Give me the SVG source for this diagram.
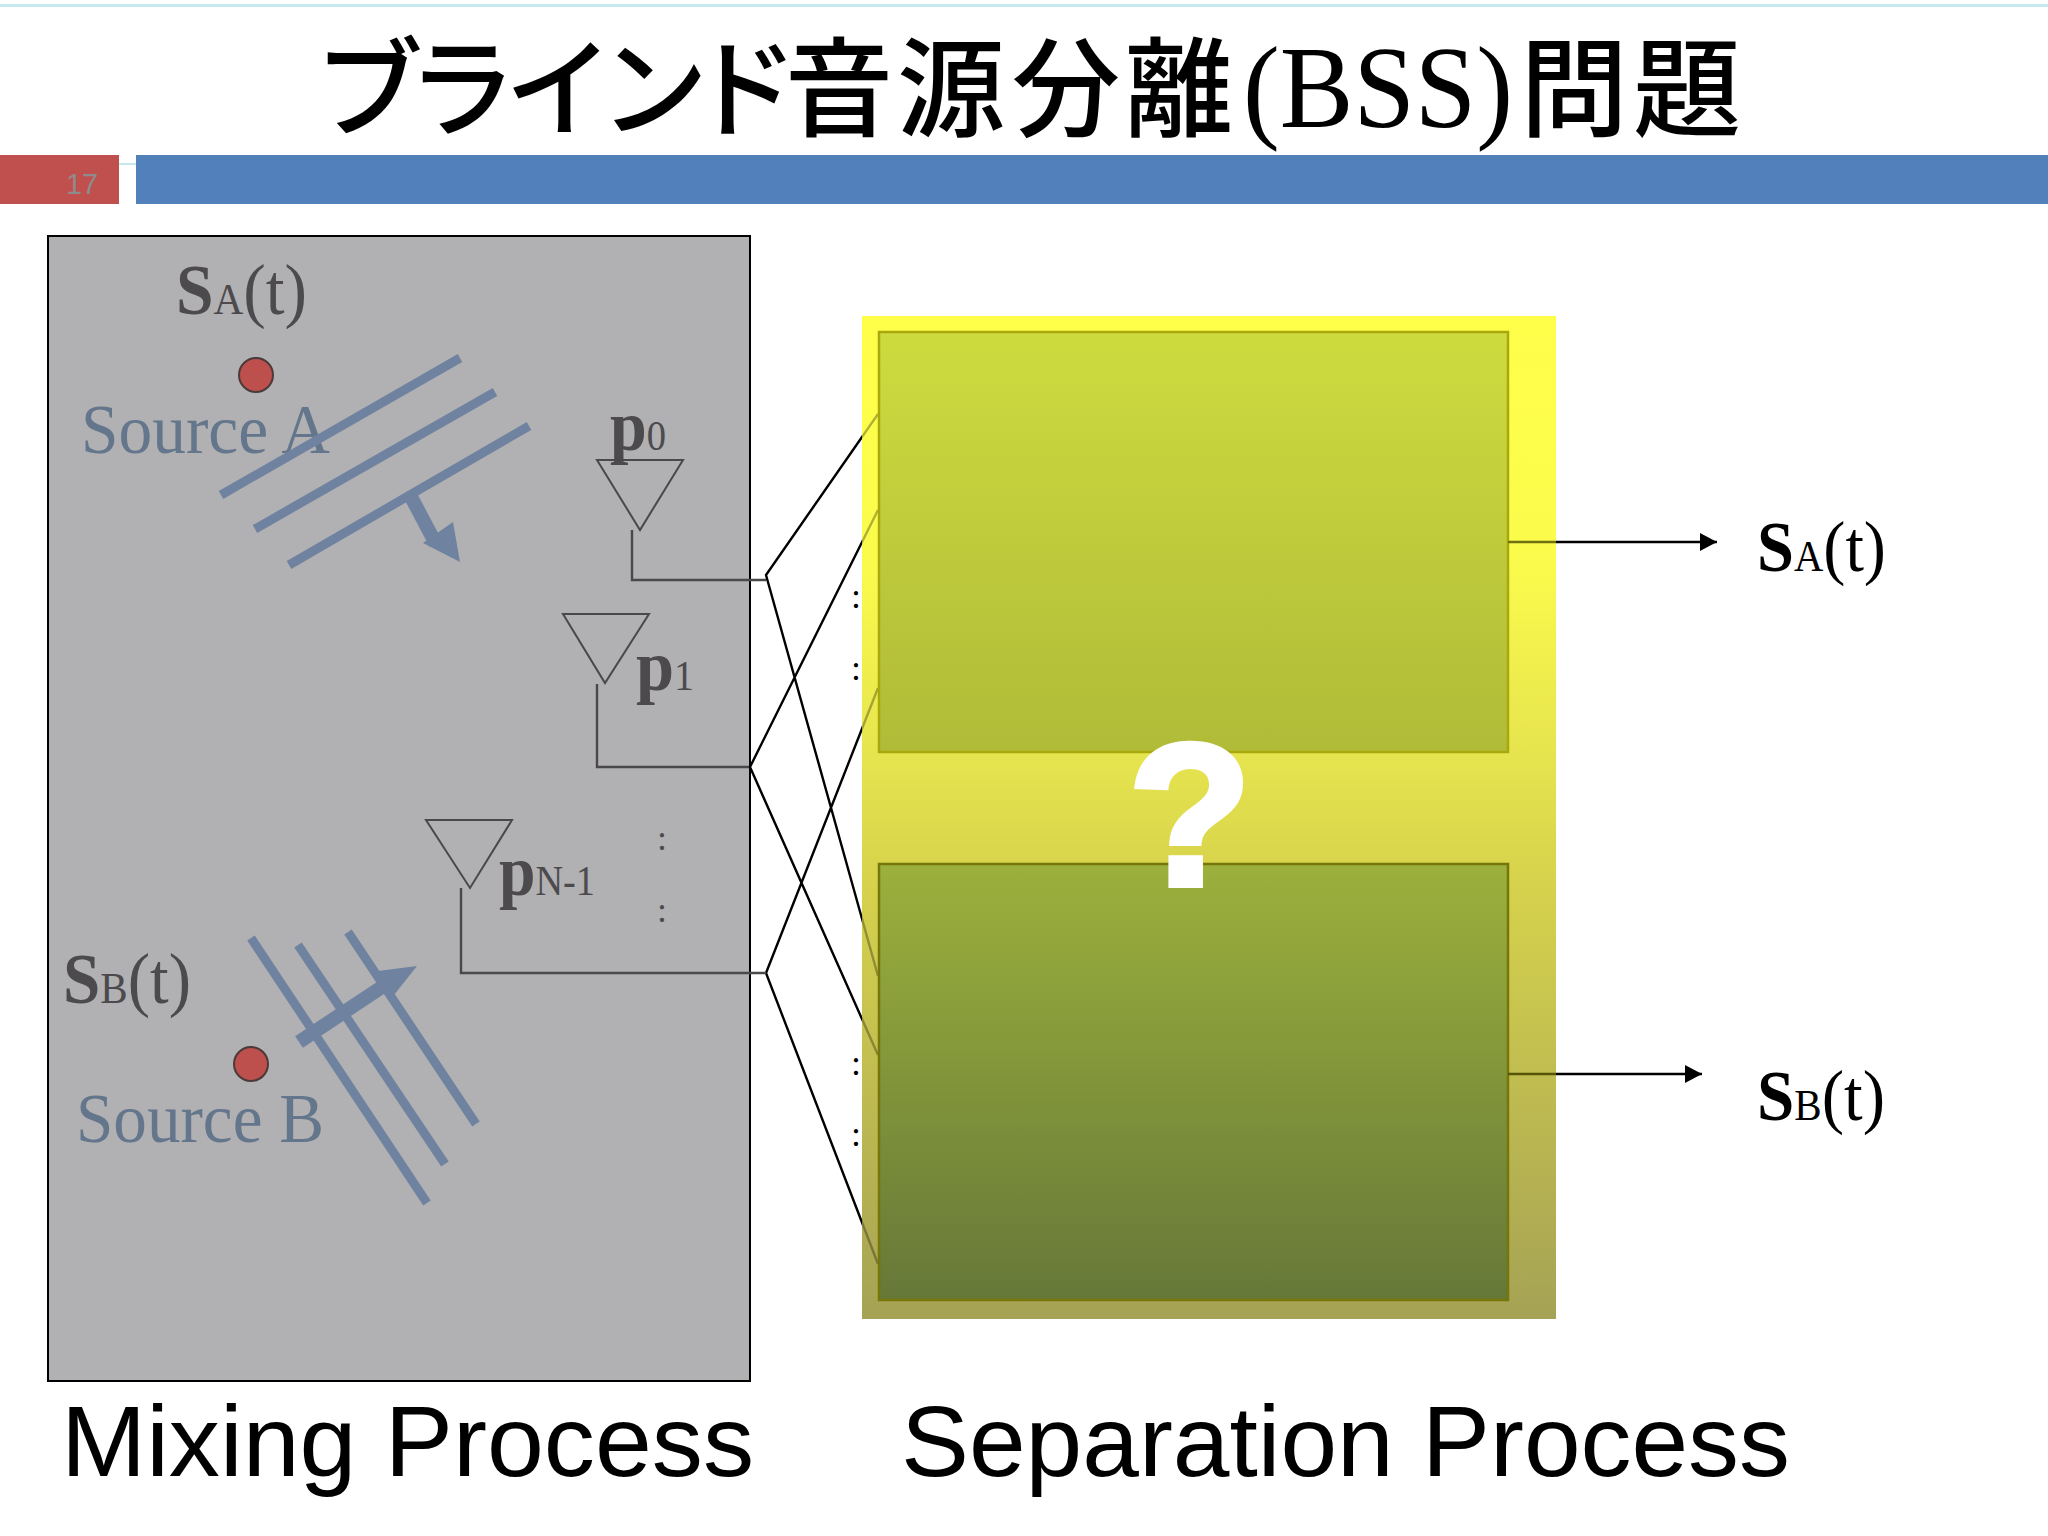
<svg xmlns="http://www.w3.org/2000/svg" width="2048" height="1536" viewBox="0 0 2048 1536">
<style>
.t{font-family:"Liberation Serif","Noto Sans CJK JP",serif}
.s{font-family:"Liberation Sans",sans-serif}
.dk{fill:#4c4a4d}
.b{font-weight:bold}
.wv{stroke:#6f83a0;stroke-width:9;fill:none}
.src{fill:#64768c;font-size:70px}
.mic{fill:none;stroke:#4a484b;stroke-width:2}
.wire{fill:none;stroke:#4a484b;stroke-width:2.4}
.x{fill:none;stroke:#000;stroke-width:2.4}
.cap{font-size:100px;fill:#000}
.dot{fill:#bd4f4c;stroke:#4a3a3a;stroke-width:2}
.jp{font-family:"Noto Sans CJK JP",sans-serif;font-weight:500;font-size:108px;fill:#000}
</style>
<defs>
<linearGradient id="gy" x1="0" y1="0" x2="0" y2="1"><stop offset="0" stop-color="#ffff4a"/><stop offset=".24" stop-color="#fbfb4c"/><stop offset=".44" stop-color="#e6e44e"/><stop offset=".55" stop-color="#d8d44c"/><stop offset="1" stop-color="#a5a255"/></linearGradient>
<linearGradient id="g1" x1="0" y1="0" x2="0" y2="1"><stop offset="0" stop-color="#cedb3e"/><stop offset="1" stop-color="#b0bb38"/></linearGradient>
<linearGradient id="g2" x1="0" y1="0" x2="0" y2="1"><stop offset="0" stop-color="#9cb03c"/><stop offset="1" stop-color="#667838"/></linearGradient>
<marker id="ah" markerUnits="userSpaceOnUse" markerWidth="17" markerHeight="18" refX="17" refY="9" orient="auto"><path d="M0 0L17 9L0 18Z" fill="#000"/></marker>
<path id="fan" d="M878 414L766 575L878 976M878 510L750 767L878 1055M878 688L766 973L878 1264"/>
<clipPath id="cp"><rect x="862" y="316" width="20" height="1003"/></clipPath>
</defs>
<rect width="2048" height="1536" fill="#fff"/>
<rect y="4" width="2048" height="3" fill="#c4e9ef"/>
<g id="title">
<text class="jp" y="128" x="315 408 505 600 690 785 897 1012 1125">ブラインド音源分離</text>
<text class="t" x="1243" y="127" font-size="116" fill="#000" textLength="270" lengthAdjust="spacingAndGlyphs">(BSS)</text>
<text class="jp" y="128" x="1520 1633">問題</text>
</g>
<g id="header"><rect y="155" width="119" height="49" fill="#c0504d"/><rect x="119" y="163" width="17" height="2" fill="#c4e9ef"/><rect x="136" y="155" width="1912" height="49" fill="#5280bb"/><text class="s" x="82" y="194" font-size="30" text-anchor="middle" fill="#908a8a" textLength="32" lengthAdjust="spacingAndGlyphs">17</text></g>
<g id="mixing">
<rect x="48" y="236" width="702" height="1145" fill="#b1b0b2" stroke="#000" stroke-width="2"/>
<text class="t dk" x="176" y="314" font-size="72" textLength="131" lengthAdjust="spacingAndGlyphs"><tspan class="b">S</tspan><tspan font-size="44">A</tspan>(t)</text>
<circle class="dot" cx="256" cy="375" r="17"/>
<text class="t src" x="81" y="453" textLength="249" lengthAdjust="spacingAndGlyphs">Source A</text>
<path class="wv" d="M221 495L460 358M255 529L495 392M289 565L529 426"/>
<path d="M410 495L436 544" stroke="#6f83a0" stroke-width="14"/>
<path d="M423 543L453 522L460 562Z" fill="#6f83a0"/>
<text class="t dk" x="610" y="450" font-size="72" font-weight="bold" textLength="56" lengthAdjust="spacingAndGlyphs">p<tspan font-size="42" font-weight="normal">0</tspan></text>
<path class="mic" d="M597 460H683L640 530Z"/>
<path class="wire" d="M632 530V580H750"/>
<path class="mic" d="M563 614H649L605 683Z"/>
<text class="t dk" x="636" y="690" font-size="72" font-weight="bold" textLength="58" lengthAdjust="spacingAndGlyphs">p<tspan font-size="42" font-weight="normal">1</tspan></text>
<path class="wire" d="M597 684V767H750"/>
<path class="mic" d="M426 820H512L470 888Z"/>
<text class="t dk" x="499" y="895" font-size="72" font-weight="bold" textLength="96" lengthAdjust="spacingAndGlyphs">p<tspan font-size="42" font-weight="normal">N-1</tspan></text>
<path class="wire" d="M461 888V973H750"/>
<text class="t dk" x="662" y="850" font-size="36" text-anchor="middle">:</text>
<text class="t dk" x="662" y="922" font-size="36" text-anchor="middle">:</text>
<text class="t dk" x="63" y="1003" font-size="72" textLength="128" lengthAdjust="spacingAndGlyphs"><tspan class="b">S</tspan><tspan font-size="44">B</tspan>(t)</text>
<circle class="dot" cx="251" cy="1064" r="17"/>
<text class="t src" x="76" y="1142" textLength="248" lengthAdjust="spacingAndGlyphs">Source B</text>
<path class="wv" d="M251 938L427 1203M298 945L445 1164M348 932L476 1124"/>
<path d="M299 1042L385 985" stroke="#6f83a0" stroke-width="14"/>
<path d="M378 971L417 966L390 1000Z" fill="#6f83a0"/>
</g>
<g id="connectors">
<use href="#fan" class="x"/>
<path class="wire" d="M750 580H766M750 973H766"/>
</g>
<g id="separation">
<rect x="862" y="316" width="694" height="1003" fill="url(#gy)"/>
<use href="#fan" fill="none" stroke="#000" stroke-width="2.4" opacity=".3" clip-path="url(#cp)"/>
<rect x="879" y="332" width="629" height="420" fill="url(#g1)" stroke="#a9a80c" stroke-width="2.5"/>
<rect x="879" y="864" width="629" height="436" fill="url(#g2)" stroke="#76760a" stroke-width="2.5"/>
<text x="1190" y="885" font-family="Liberation Sans" font-weight="bold" font-size="202" fill="#fff" stroke="#fff" stroke-width="6" text-anchor="middle">?</text>
</g>
<g id="dots" font-family="Liberation Serif" font-size="36" fill="#000"><text x="851" y="608">:</text><text x="851" y="680">:</text><text x="851" y="1075">:</text><text x="851" y="1146">:</text></g>
<g id="outputs">
<path d="M1508 542H1556" stroke="#6f7010" stroke-width="2.4"/><path d="M1556 542H1717" class="x" marker-end="url(#ah)"/>
<path d="M1508 1074H1556" stroke="#55560a" stroke-width="2.4"/><path d="M1556 1074H1702" class="x" marker-end="url(#ah)"/>
<text class="t" x="1757" y="571" font-size="72" textLength="129" lengthAdjust="spacingAndGlyphs"><tspan class="b">S</tspan><tspan font-size="44">A</tspan>(t)</text>
<text class="t" x="1757" y="1120" font-size="72" textLength="128" lengthAdjust="spacingAndGlyphs"><tspan class="b">S</tspan><tspan font-size="44">B</tspan>(t)</text>
</g>
<g id="captions"><text class="s cap" x="61" y="1476" textLength="693" lengthAdjust="spacingAndGlyphs">Mixing Process</text>
<text class="s cap" x="901" y="1476" textLength="889" lengthAdjust="spacingAndGlyphs">Separation Process</text></g>
</svg>
